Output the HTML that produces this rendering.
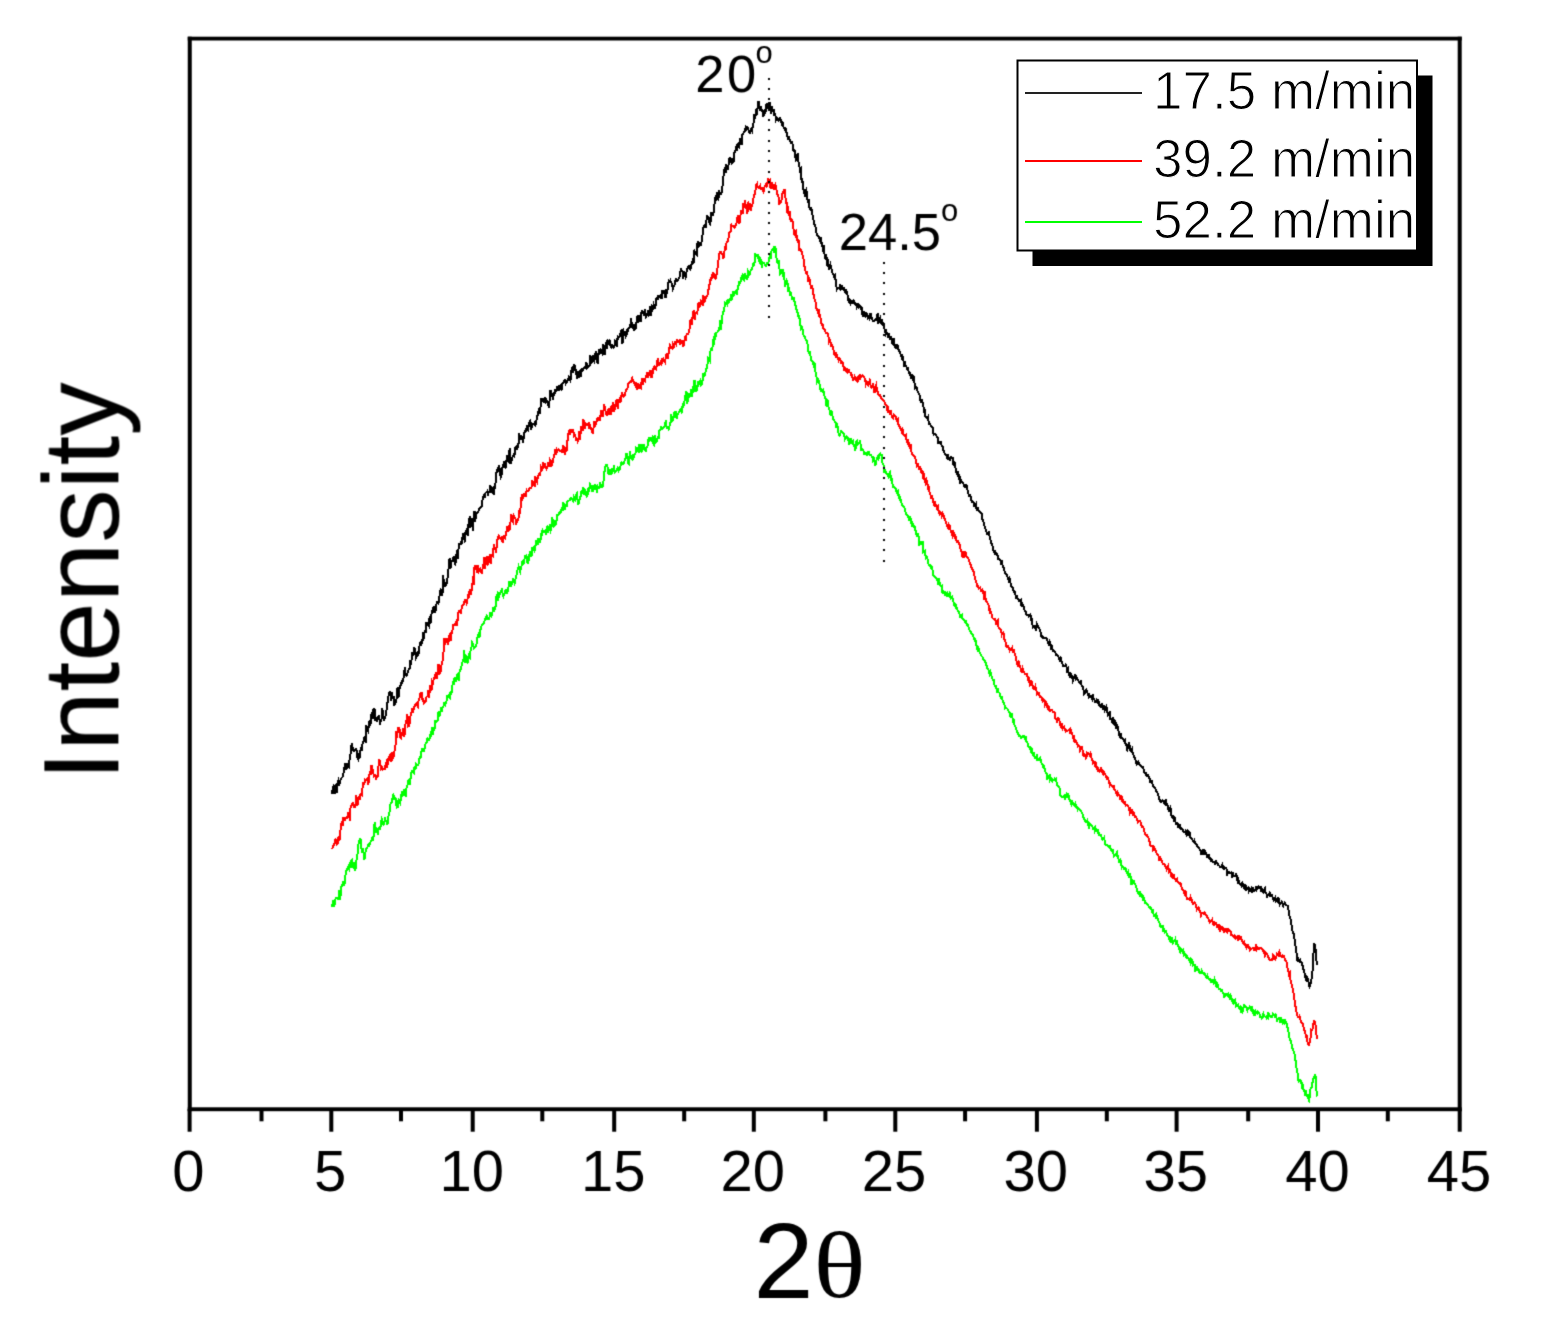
<!DOCTYPE html><html><head><meta charset="utf-8"><title>XRD</title><style>html,body{margin:0;padding:0;background:#fff;}svg{display:block;}text{font-family:"Liberation Sans",Arial,sans-serif;}</style></head><body>
<svg width="1544" height="1332" viewBox="0 0 1544 1332">
<rect x="0" y="0" width="1544" height="1332" fill="#fff"/>
<defs><filter id="soft" x="0" y="0" width="1544" height="1332" filterUnits="userSpaceOnUse" color-interpolation-filters="sRGB"><feConvolveMatrix order="3" kernelMatrix="0.0225 0.105 0.0225 0.105 0.49 0.105 0.0225 0.105 0.0225" edgeMode="none"/></filter></defs>
<g filter="url(#soft)">
<g fill="none" stroke-width="2" stroke-linejoin="miter" shape-rendering="crispEdges">
<polyline stroke="#00ff00" points="332.2,906.8 333.0,900.0 333.8,907.1 334.6,904.0 335.4,899.0 336.2,897.8 337.0,897.8 337.8,899.2 338.6,899.1 339.4,889.7 340.2,899.8 341.0,889.1 341.8,885.0 342.6,885.6 343.4,881.1 344.2,886.3 345.0,879.8 345.8,872.6 346.6,870.2 347.4,868.2 348.2,867.0 349.0,868.5 349.8,862.2 350.6,867.8 351.4,860.3 352.2,859.8 353.0,867.8 353.8,862.1 354.6,869.7 355.4,870.2 356.2,862.4 357.0,856.6 357.8,852.2 358.6,843.1 359.4,840.7 360.2,839.2 361.0,840.0 361.8,853.2 362.6,848.7 363.4,852.4 364.2,859.6 365.0,856.8 365.8,849.8 366.6,848.1 367.4,848.0 368.2,843.7 369.0,847.2 369.8,844.2 370.6,841.6 371.4,840.9 372.2,838.0 373.0,839.0 373.8,835.2 374.6,822.3 375.4,832.8 376.2,827.9 377.0,828.7 377.8,835.2 378.6,828.4 379.4,827.6 380.2,830.1 381.0,822.1 381.8,819.2 382.6,821.1 383.4,824.5 384.2,823.2 385.0,817.2 385.8,821.0 386.6,821.7 387.4,824.7 388.2,817.4 389.0,813.4 389.8,810.7 390.6,803.1 391.4,803.3 392.2,800.9 393.0,793.7 393.8,796.1 394.6,800.1 395.4,796.8 396.2,805.4 397.0,807.6 397.8,807.3 398.6,799.4 399.4,800.2 400.2,802.5 401.0,798.3 401.8,791.2 402.6,793.4 403.4,796.3 404.2,790.3 405.0,790.8 405.8,797.0 406.6,787.2 407.4,785.6 408.2,780.6 409.0,779.9 409.8,785.3 410.6,778.0 411.4,772.4 412.2,771.0 413.0,772.1 413.8,773.0 414.6,766.3 415.4,769.6 416.2,764.1 417.0,765.6 417.8,765.0 418.6,763.8 419.4,758.5 420.2,757.2 421.0,756.9 421.8,748.3 422.6,751.0 423.4,750.3 424.2,750.5 425.0,745.4 425.8,743.4 426.6,742.9 427.4,738.4 428.2,738.8 429.0,739.7 429.8,738.4 430.6,733.2 431.4,734.6 432.2,727.5 433.0,735.1 433.8,728.4 434.6,728.5 435.4,721.5 436.2,722.1 437.0,721.0 437.8,720.2 438.6,711.1 439.4,717.1 440.2,712.5 441.0,709.0 441.8,711.6 442.6,707.5 443.4,706.2 444.2,703.4 445.0,705.1 445.8,702.9 446.6,700.4 447.4,695.8 448.2,695.4 449.0,696.6 449.8,697.7 450.6,691.6 451.4,694.4 452.2,687.5 453.0,681.6 453.8,684.9 454.6,677.6 455.4,680.4 456.2,680.9 457.0,674.8 457.8,674.0 458.6,680.9 459.4,672.3 460.2,670.2 461.0,669.6 461.8,664.4 462.6,662.0 463.4,661.0 464.2,650.0 465.0,662.9 465.8,655.4 466.6,656.1 467.4,662.3 468.2,661.6 469.0,655.9 469.8,657.6 470.6,649.9 471.4,647.9 472.2,642.3 473.0,644.1 473.8,647.9 474.6,646.9 475.4,646.5 476.2,646.2 477.0,640.5 477.8,635.7 478.6,634.1 479.4,637.7 480.2,630.0 481.0,628.5 481.8,624.8 482.6,624.4 483.4,624.2 484.2,621.8 485.0,620.2 485.8,617.0 486.6,615.7 487.4,618.9 488.2,619.3 489.0,619.2 489.8,615.8 490.6,612.2 491.4,616.1 492.2,614.9 493.0,606.7 493.8,611.3 494.6,607.8 495.4,608.6 496.2,597.1 497.0,595.2 497.8,601.3 498.6,592.4 499.4,595.1 500.2,593.1 501.0,592.4 501.8,588.5 502.6,593.1 503.4,596.2 504.2,593.6 505.0,592.7 505.8,589.1 506.6,593.9 507.4,589.9 508.2,590.6 509.0,581.4 509.8,586.9 510.6,581.4 511.4,585.3 512.2,583.7 513.0,578.3 513.8,581.4 514.6,583.5 515.4,579.2 516.2,577.4 517.0,570.7 517.8,569.4 518.6,566.5 519.4,569.4 520.2,571.6 521.0,568.0 521.8,565.2 522.6,560.3 523.4,564.5 524.2,561.6 525.0,555.7 525.8,555.6 526.6,559.2 527.4,556.6 528.2,564.1 529.0,557.3 529.8,552.2 530.6,552.3 531.4,557.2 532.2,547.2 533.0,550.9 533.8,548.2 534.6,550.3 535.4,546.0 536.2,541.7 537.0,543.4 537.8,540.7 538.6,542.4 539.4,537.7 540.2,542.8 541.0,534.5 541.8,534.8 542.6,530.0 543.4,531.4 544.2,530.9 545.0,531.2 545.8,533.2 546.6,528.2 547.4,526.9 548.2,532.8 549.0,528.0 549.8,525.9 550.6,530.9 551.4,528.8 552.2,517.0 553.0,523.3 553.8,526.1 554.6,525.2 555.4,519.8 556.2,524.4 557.0,514.9 557.8,514.8 558.6,514.2 559.4,512.1 560.2,512.9 561.0,512.0 561.8,507.6 562.6,511.1 563.4,503.5 564.2,504.1 565.0,509.7 565.8,504.1 566.6,506.7 567.4,501.2 568.2,500.8 569.0,500.4 569.8,500.3 570.6,497.7 571.4,498.0 572.2,499.5 573.0,500.6 573.8,497.0 574.6,499.0 575.4,500.2 576.2,494.3 577.0,493.3 577.8,504.2 578.6,503.9 579.4,499.2 580.2,498.8 581.0,493.1 581.8,490.1 582.6,494.1 583.4,487.3 584.2,494.8 585.0,489.4 585.8,492.0 586.6,496.6 587.4,495.7 588.2,488.0 589.0,491.4 589.8,484.1 590.6,485.1 591.4,488.1 592.2,491.4 593.0,485.6 593.8,489.6 594.6,488.6 595.4,484.4 596.2,487.8 597.0,492.4 597.8,486.5 598.6,487.6 599.4,487.7 600.2,481.9 601.0,487.3 601.8,487.5 602.6,486.3 603.4,482.1 604.2,473.0 605.0,469.1 605.8,464.9 606.6,464.9 607.4,466.2 608.2,472.8 609.0,475.2 609.8,469.4 610.6,474.7 611.4,468.7 612.2,471.5 613.0,469.3 613.8,467.3 614.6,472.6 615.4,472.4 616.2,470.4 617.0,469.6 617.8,467.8 618.6,470.1 619.4,467.1 620.2,468.1 621.0,461.7 621.8,464.2 622.6,463.2 623.4,463.7 624.2,462.1 625.0,459.5 625.8,456.7 626.6,453.1 627.4,458.8 628.2,463.3 629.0,464.1 629.8,451.0 630.6,456.8 631.4,458.2 632.2,456.1 633.0,458.9 633.8,457.2 634.6,454.1 635.4,454.2 636.2,448.0 637.0,448.8 637.8,448.0 638.6,452.7 639.4,443.8 640.2,448.0 641.0,450.6 641.8,447.2 642.6,449.2 643.4,443.9 644.2,447.0 645.0,448.2 645.8,452.0 646.6,446.8 647.4,446.9 648.2,440.3 649.0,438.6 649.8,441.3 650.6,437.2 651.4,440.0 652.2,438.0 653.0,442.8 653.8,444.2 654.6,434.6 655.4,443.6 656.2,439.6 657.0,440.1 657.8,437.5 658.6,438.2 659.4,430.4 660.2,429.6 661.0,427.4 661.8,428.8 662.6,428.9 663.4,428.0 664.2,426.9 665.0,424.1 665.8,420.6 666.6,427.7 667.4,427.2 668.2,428.2 669.0,430.2 669.8,423.8 670.6,422.4 671.4,414.5 672.2,422.3 673.0,419.1 673.8,415.6 674.6,417.9 675.4,412.1 676.2,412.3 677.0,418.7 677.8,413.6 678.6,413.0 679.4,411.4 680.2,410.2 681.0,407.9 681.8,413.4 682.6,404.9 683.4,406.2 684.2,402.0 685.0,400.2 685.8,392.3 686.6,392.6 687.4,402.3 688.2,400.9 689.0,393.7 689.8,393.8 690.6,395.0 691.4,389.1 692.2,396.8 693.0,387.0 693.8,387.0 694.6,379.7 695.4,392.2 696.2,387.0 697.0,391.1 697.8,381.6 698.6,384.2 699.4,381.9 700.2,380.7 701.0,385.1 701.8,384.2 702.6,380.0 703.4,373.1 704.2,375.9 705.0,375.2 705.8,370.6 706.6,368.1 707.4,365.0 708.2,357.8 709.0,358.4 709.8,360.0 710.6,349.6 711.4,350.5 712.2,350.4 713.0,341.4 713.8,342.7 714.6,335.7 715.4,337.3 716.2,333.0 717.0,332.6 717.8,331.8 718.6,330.4 719.4,328.7 720.2,320.3 721.0,330.4 721.8,320.6 722.6,314.0 723.4,311.4 724.2,310.3 725.0,302.4 725.8,302.8 726.6,301.9 727.4,304.1 728.2,299.3 729.0,301.8 729.8,300.2 730.6,297.5 731.4,300.5 732.2,296.0 733.0,291.5 733.8,294.8 734.6,293.3 735.4,291.7 736.2,290.8 737.0,294.9 737.8,286.6 738.6,285.1 739.4,281.1 740.2,283.8 741.0,278.1 741.8,276.1 742.6,274.9 743.4,279.8 744.2,280.3 745.0,273.3 745.8,275.6 746.6,278.9 747.4,278.9 748.2,271.2 749.0,272.8 749.8,275.3 750.6,270.4 751.4,269.8 752.2,268.7 753.0,264.3 753.8,264.9 754.6,262.3 755.4,254.0 756.2,254.8 757.0,256.1 757.8,255.2 758.6,259.0 759.4,256.6 760.2,263.7 761.0,259.5 761.8,268.0 762.6,262.5 763.4,262.6 764.2,263.0 765.0,265.2 765.8,265.9 766.6,264.5 767.4,262.8 768.2,262.8 769.0,260.6 769.8,255.5 770.6,258.6 771.4,251.3 772.2,250.1 773.0,248.7 773.8,252.7 774.6,246.9 775.4,247.4 776.2,255.8 777.0,261.1 777.8,264.1 778.6,260.3 779.4,268.3 780.2,273.6 781.0,272.7 781.8,269.2 782.6,274.0 783.4,272.1 784.2,275.4 785.0,286.4 785.8,284.3 786.6,280.5 787.4,282.5 788.2,289.7 789.0,289.0 789.8,294.0 790.6,292.7 791.4,295.8 792.2,299.0 793.0,298.0 793.8,298.0 794.6,301.9 795.4,305.1 796.2,308.4 797.0,311.0 797.8,313.5 798.6,317.4 799.4,316.4 800.2,324.8 801.0,328.8 801.8,327.1 802.6,329.3 803.4,334.7 804.2,335.9 805.0,337.5 805.8,339.5 806.6,340.9 807.4,342.5 808.2,349.9 809.0,354.1 809.8,351.3 810.6,356.6 811.4,360.0 812.2,360.7 813.0,362.3 813.8,365.7 814.6,364.3 815.4,371.8 816.2,373.9 817.0,382.5 817.8,381.5 818.6,380.1 819.4,382.8 820.2,389.0 821.0,390.8 821.8,389.4 822.6,390.9 823.4,389.9 824.2,395.2 825.0,397.9 825.8,398.6 826.6,406.6 827.4,399.6 828.2,405.7 829.0,408.9 829.8,410.9 830.6,415.8 831.4,410.3 832.2,414.0 833.0,418.2 833.8,420.3 834.6,421.1 835.4,422.1 836.2,428.2 837.0,424.6 837.8,427.3 838.6,433.6 839.4,435.6 840.2,434.7 841.0,431.3 841.8,431.9 842.6,432.5 843.4,432.5 844.2,434.8 845.0,439.3 845.8,437.7 846.6,436.6 847.4,437.7 848.2,438.0 849.0,444.6 849.8,438.0 850.6,443.7 851.4,440.0 852.2,441.1 853.0,440.6 853.8,446.7 854.6,444.6 855.4,450.5 856.2,441.3 857.0,440.7 857.8,444.0 858.6,443.1 859.4,442.6 860.2,440.1 861.0,449.4 861.8,449.0 862.6,450.4 863.4,450.2 864.2,455.2 865.0,452.6 865.8,453.9 866.6,453.1 867.4,455.9 868.2,451.6 869.0,451.6 869.8,455.1 870.6,454.7 871.4,455.8 872.2,456.8 873.0,460.8 873.8,458.4 874.6,461.9 875.4,465.7 876.2,461.5 877.0,458.1 877.8,456.4 878.6,458.6 879.4,454.9 880.2,453.6 881.0,454.8 881.8,454.9 882.6,463.8 883.4,463.6 884.2,473.1 885.0,469.3 885.8,472.1 886.6,474.3 887.4,474.3 888.2,476.3 889.0,473.6 889.8,472.5 890.6,478.6 891.4,477.4 892.2,481.8 893.0,487.1 893.8,486.7 894.6,487.6 895.4,487.9 896.2,491.1 897.0,492.8 897.8,491.4 898.6,496.8 899.4,495.6 900.2,499.9 901.0,500.2 901.8,504.8 902.6,506.1 903.4,505.9 904.2,507.2 905.0,510.0 905.8,513.7 906.6,514.8 907.4,514.7 908.2,516.6 909.0,520.7 909.8,515.9 910.6,521.7 911.4,520.4 912.2,526.4 913.0,524.3 913.8,526.6 914.6,526.2 915.4,530.0 916.2,533.2 917.0,536.7 917.8,532.8 918.6,536.0 919.4,545.9 920.2,541.7 921.0,541.7 921.8,545.1 922.6,541.5 923.4,552.1 924.2,551.6 925.0,550.9 925.8,558.0 926.6,556.8 927.4,558.2 928.2,563.2 929.0,565.1 929.8,565.2 930.6,567.3 931.4,566.4 932.2,567.7 933.0,573.8 933.8,576.3 934.6,576.2 935.4,577.7 936.2,577.7 937.0,579.5 937.8,579.2 938.6,585.1 939.4,582.1 940.2,585.3 941.0,586.3 941.8,585.6 942.6,593.4 943.4,591.0 944.2,591.9 945.0,594.3 945.8,592.6 946.6,594.4 947.4,592.9 948.2,595.9 949.0,595.5 949.8,593.4 950.6,598.5 951.4,598.2 952.2,597.0 953.0,600.9 953.8,602.4 954.6,606.3 955.4,603.0 956.2,607.8 957.0,608.0 957.8,611.0 958.6,611.4 959.4,613.7 960.2,616.6 961.0,615.6 961.8,614.7 962.6,619.0 963.4,618.9 964.2,620.5 965.0,622.1 965.8,621.1 966.6,624.3 967.4,623.8 968.2,625.8 969.0,628.9 969.8,630.6 970.6,631.6 971.4,633.8 972.2,633.7 973.0,635.4 973.8,637.9 974.6,640.4 975.4,639.8 976.2,644.0 977.0,647.9 977.8,650.2 978.6,648.4 979.4,652.0 980.2,653.0 981.0,654.8 981.8,656.3 982.6,657.2 983.4,659.3 984.2,659.8 985.0,660.7 985.8,663.4 986.6,665.7 987.4,668.8 988.2,669.2 989.0,671.6 989.8,674.5 990.6,672.1 991.4,675.3 992.2,678.7 993.0,679.8 993.8,680.1 994.6,685.6 995.4,685.8 996.2,685.9 997.0,692.4 997.8,688.4 998.6,692.2 999.4,692.6 1000.2,695.4 1001.0,698.0 1001.8,697.5 1002.6,700.6 1003.4,702.7 1004.2,703.3 1005.0,708.2 1005.8,707.7 1006.6,708.1 1007.4,708.7 1008.2,710.5 1009.0,712.3 1009.8,712.8 1010.6,717.8 1011.4,713.2 1012.2,716.0 1013.0,721.3 1013.8,720.7 1014.6,725.9 1015.4,726.3 1016.2,729.7 1017.0,730.8 1017.8,733.6 1018.6,734.3 1019.4,736.2 1020.2,736.1 1021.0,737.7 1021.8,737.4 1022.6,736.2 1023.4,735.7 1024.2,736.3 1025.0,739.7 1025.8,736.1 1026.6,742.2 1027.4,742.4 1028.2,746.7 1029.0,747.4 1029.8,747.3 1030.6,750.1 1031.4,747.4 1032.2,753.0 1033.0,754.6 1033.8,751.9 1034.6,757.8 1035.4,757.3 1036.2,758.5 1037.0,756.1 1037.8,759.9 1038.6,760.2 1039.4,759.5 1040.2,758.1 1041.0,761.5 1041.8,764.2 1042.6,764.6 1043.4,767.6 1044.2,766.9 1045.0,770.2 1045.8,772.7 1046.6,773.9 1047.4,779.6 1048.2,776.6 1049.0,775.9 1049.8,779.4 1050.6,777.1 1051.4,780.5 1052.2,781.4 1053.0,779.4 1053.8,779.8 1054.6,778.8 1055.4,780.8 1056.2,779.6 1057.0,784.9 1057.8,785.4 1058.6,786.3 1059.4,786.6 1060.2,794.9 1061.0,795.9 1061.8,796.8 1062.6,796.6 1063.4,796.7 1064.2,795.7 1065.0,799.9 1065.8,797.1 1066.6,794.2 1067.4,795.5 1068.2,792.9 1069.0,799.0 1069.8,799.9 1070.6,802.5 1071.4,804.1 1072.2,800.4 1073.0,803.5 1073.8,805.2 1074.6,805.5 1075.4,803.9 1076.2,806.9 1077.0,807.2 1077.8,809.6 1078.6,808.1 1079.4,808.9 1080.2,809.9 1081.0,811.6 1081.8,812.3 1082.6,814.4 1083.4,817.2 1084.2,818.4 1085.0,821.1 1085.8,821.9 1086.6,822.2 1087.4,820.4 1088.2,824.6 1089.0,826.9 1089.8,823.9 1090.6,824.8 1091.4,825.7 1092.2,826.1 1093.0,828.1 1093.8,827.6 1094.6,830.4 1095.4,828.1 1096.2,830.5 1097.0,830.5 1097.8,830.4 1098.6,834.6 1099.4,833.6 1100.2,835.2 1101.0,835.2 1101.8,838.4 1102.6,839.6 1103.4,839.5 1104.2,838.0 1105.0,843.7 1105.8,844.7 1106.6,844.7 1107.4,845.8 1108.2,846.5 1109.0,847.5 1109.8,846.3 1110.6,848.8 1111.4,850.3 1112.2,849.6 1113.0,850.0 1113.8,855.8 1114.6,854.7 1115.4,854.2 1116.2,854.9 1117.0,852.5 1117.8,855.9 1118.6,859.2 1119.4,863.1 1120.2,858.7 1121.0,862.1 1121.8,867.4 1122.6,866.2 1123.4,866.7 1124.2,869.1 1125.0,867.9 1125.8,868.9 1126.6,871.7 1127.4,873.6 1128.2,871.9 1129.0,877.8 1129.8,873.6 1130.6,876.7 1131.4,884.4 1132.2,879.7 1133.0,882.9 1133.8,881.4 1134.6,883.9 1135.4,884.6 1136.2,886.6 1137.0,889.7 1137.8,892.5 1138.6,892.0 1139.4,894.1 1140.2,891.6 1141.0,896.0 1141.8,895.6 1142.6,898.4 1143.4,897.0 1144.2,898.9 1145.0,903.0 1145.8,903.2 1146.6,903.9 1147.4,904.2 1148.2,905.6 1149.0,907.1 1149.8,907.9 1150.6,907.0 1151.4,909.0 1152.2,912.0 1153.0,911.0 1153.8,915.9 1154.6,915.8 1155.4,916.9 1156.2,914.2 1157.0,916.9 1157.8,919.3 1158.6,921.5 1159.4,922.1 1160.2,926.0 1161.0,926.8 1161.8,927.2 1162.6,925.2 1163.4,931.9 1164.2,929.9 1165.0,932.2 1165.8,931.0 1166.6,933.3 1167.4,935.6 1168.2,935.9 1169.0,938.2 1169.8,937.5 1170.6,942.5 1171.4,937.0 1172.2,939.7 1173.0,942.7 1173.8,940.9 1174.6,940.9 1175.4,939.0 1176.2,944.4 1177.0,940.6 1177.8,946.0 1178.6,946.9 1179.4,949.4 1180.2,951.6 1181.0,949.1 1181.8,949.9 1182.6,951.5 1183.4,950.0 1184.2,955.2 1185.0,954.1 1185.8,956.0 1186.6,955.0 1187.4,958.1 1188.2,958.2 1189.0,960.0 1189.8,959.1 1190.6,963.3 1191.4,961.2 1192.2,958.8 1193.0,965.1 1193.8,964.5 1194.6,964.6 1195.4,971.4 1196.2,968.3 1197.0,967.3 1197.8,969.2 1198.6,971.3 1199.4,970.7 1200.2,973.4 1201.0,973.4 1201.8,970.5 1202.6,972.2 1203.4,974.0 1204.2,973.2 1205.0,974.0 1205.8,977.2 1206.6,977.6 1207.4,975.5 1208.2,977.8 1209.0,978.7 1209.8,979.8 1210.6,979.3 1211.4,983.2 1212.2,979.9 1213.0,980.2 1213.8,982.9 1214.6,979.4 1215.4,982.0 1216.2,985.3 1217.0,982.8 1217.8,984.4 1218.6,988.6 1219.4,988.6 1220.2,989.0 1221.0,990.4 1221.8,989.9 1222.6,992.6 1223.4,992.8 1224.2,997.9 1225.0,995.0 1225.8,993.9 1226.6,994.8 1227.4,995.4 1228.2,993.6 1229.0,995.2 1229.8,999.8 1230.6,995.8 1231.4,997.9 1232.2,1001.2 1233.0,1002.6 1233.8,999.0 1234.6,1003.9 1235.4,1001.6 1236.2,1005.8 1237.0,1004.8 1237.8,1004.5 1238.6,1007.2 1239.4,1008.1 1240.2,1007.1 1241.0,1013.2 1241.8,1009.2 1242.6,1011.2 1243.4,1007.9 1244.2,1005.1 1245.0,1005.8 1245.8,1007.2 1246.6,1008.1 1247.4,1010.2 1248.2,1007.9 1249.0,1007.7 1249.8,1006.6 1250.6,1009.0 1251.4,1010.1 1252.2,1006.6 1253.0,1013.1 1253.8,1013.4 1254.6,1015.8 1255.4,1011.1 1256.2,1013.1 1257.0,1013.4 1257.8,1011.7 1258.6,1013.1 1259.4,1013.6 1260.2,1016.7 1261.0,1016.7 1261.8,1018.2 1262.6,1015.3 1263.4,1013.6 1264.2,1016.5 1265.0,1016.4 1265.8,1016.9 1266.6,1018.0 1267.4,1015.1 1268.2,1017.5 1269.0,1014.5 1269.8,1016.4 1270.6,1017.1 1271.4,1015.7 1272.2,1016.2 1273.0,1013.6 1273.8,1014.8 1274.6,1016.1 1275.4,1014.3 1276.2,1015.6 1277.0,1021.7 1277.8,1018.8 1278.6,1017.8 1279.4,1018.2 1280.2,1022.9 1281.0,1016.8 1281.8,1021.1 1282.6,1022.9 1283.4,1021.1 1284.2,1023.0 1285.0,1020.5 1285.8,1022.3 1286.6,1023.8 1287.4,1027.1 1288.2,1030.9 1289.0,1034.2 1289.8,1039.5 1290.6,1040.7 1291.4,1043.5 1292.2,1047.3 1293.0,1050.4 1293.8,1051.5 1294.6,1054.0 1295.4,1059.4 1296.2,1066.9 1297.0,1070.1 1297.8,1074.2 1298.6,1081.4 1299.4,1080.4 1300.2,1079.9 1301.0,1081.0 1301.8,1086.0 1302.6,1084.3 1303.4,1089.4 1304.2,1090.2 1305.0,1093.5 1305.8,1092.0 1306.6,1096.6 1307.4,1093.9 1308.2,1098.3 1309.0,1100.6 1309.8,1096.0 1310.6,1088.0 1311.4,1088.2 1312.2,1083.9 1313.0,1080.3 1313.8,1077.5 1314.6,1076.6 1315.4,1074.5 1316.2,1087.1 1317.0,1096.5"/>
<polyline stroke="#ff0000" points="332.2,849.0 333.0,846.3 333.8,844.7 334.6,843.6 335.4,838.7 336.2,841.7 337.0,844.2 337.8,843.6 338.6,836.6 339.4,840.6 340.2,834.7 341.0,823.9 341.8,822.4 342.6,826.0 343.4,816.8 344.2,818.7 345.0,819.6 345.8,818.2 346.6,817.4 347.4,818.0 348.2,813.0 349.0,813.1 349.8,820.7 350.6,806.5 351.4,805.7 352.2,804.5 353.0,802.1 353.8,808.3 354.6,804.6 355.4,807.5 356.2,795.0 357.0,806.2 357.8,804.2 358.6,795.7 359.4,800.3 360.2,794.4 361.0,794.2 361.8,794.8 362.6,786.8 363.4,782.0 364.2,784.6 365.0,779.5 365.8,780.2 366.6,779.4 367.4,778.8 368.2,784.5 369.0,780.3 369.8,771.4 370.6,775.0 371.4,764.7 372.2,768.6 373.0,770.8 373.8,776.0 374.6,775.2 375.4,775.1 376.2,778.5 377.0,776.9 377.8,776.3 378.6,764.4 379.4,759.2 380.2,763.8 381.0,768.4 381.8,767.0 382.6,769.4 383.4,769.0 384.2,768.5 385.0,768.8 385.8,762.6 386.6,767.8 387.4,760.0 388.2,761.8 389.0,756.1 389.8,761.0 390.6,753.2 391.4,762.3 392.2,752.5 393.0,757.4 393.8,755.7 394.6,750.3 395.4,747.0 396.2,730.8 397.0,737.6 397.8,729.8 398.6,731.1 399.4,727.6 400.2,736.8 401.0,737.9 401.8,734.4 402.6,731.9 403.4,727.9 404.2,737.3 405.0,730.3 405.8,720.0 406.6,723.5 407.4,714.2 408.2,726.4 409.0,726.0 409.8,722.4 410.6,715.7 411.4,712.3 412.2,708.3 413.0,713.3 413.8,707.4 414.6,707.0 415.4,704.3 416.2,703.3 417.0,704.9 417.8,706.4 418.6,700.3 419.4,698.9 420.2,694.2 421.0,692.8 421.8,693.0 422.6,700.4 423.4,699.4 424.2,703.0 425.0,702.4 425.8,700.9 426.6,696.6 427.4,696.5 428.2,690.0 429.0,698.4 429.8,689.8 430.6,684.8 431.4,690.9 432.2,681.1 433.0,682.3 433.8,678.1 434.6,678.3 435.4,674.5 436.2,676.3 437.0,678.4 437.8,668.4 438.6,664.0 439.4,674.5 440.2,669.4 441.0,670.3 441.8,662.2 442.6,661.0 443.4,654.6 444.2,638.5 445.0,644.9 445.8,641.1 446.6,638.2 447.4,643.0 448.2,644.9 449.0,636.4 449.8,634.6 450.6,640.7 451.4,634.3 452.2,633.0 453.0,625.4 453.8,624.7 454.6,625.3 455.4,623.9 456.2,622.2 457.0,625.4 457.8,618.9 458.6,611.2 459.4,611.2 460.2,611.7 461.0,614.1 461.8,605.8 462.6,605.3 463.4,605.3 464.2,601.8 465.0,600.1 465.8,600.6 466.6,603.1 467.4,599.6 468.2,595.3 469.0,595.9 469.8,588.7 470.6,594.7 471.4,591.6 472.2,586.5 473.0,576.4 473.8,585.0 474.6,565.2 475.4,568.2 476.2,567.2 477.0,572.7 477.8,565.6 478.6,571.7 479.4,569.9 480.2,568.9 481.0,571.8 481.8,572.7 482.6,568.2 483.4,565.0 484.2,557.5 485.0,569.0 485.8,562.3 486.6,556.3 487.4,562.1 488.2,565.3 489.0,558.8 489.8,554.0 490.6,563.7 491.4,556.8 492.2,554.6 493.0,555.6 493.8,543.9 494.6,549.5 495.4,547.0 496.2,552.6 497.0,540.8 497.8,539.1 498.6,535.6 499.4,536.8 500.2,538.0 501.0,538.7 501.8,536.2 502.6,542.4 503.4,536.5 504.2,536.2 505.0,537.9 505.8,534.8 506.6,530.4 507.4,526.2 508.2,531.6 509.0,525.6 509.8,530.4 510.6,521.4 511.4,514.6 512.2,520.2 513.0,521.7 513.8,516.0 514.6,517.8 515.4,518.5 516.2,524.5 517.0,520.6 517.8,519.8 518.6,517.8 519.4,510.8 520.2,511.7 521.0,502.0 521.8,494.0 522.6,498.3 523.4,496.8 524.2,494.0 525.0,493.9 525.8,497.1 526.6,490.0 527.4,491.3 528.2,491.1 529.0,489.7 529.8,487.7 530.6,488.0 531.4,488.0 532.2,482.2 533.0,484.1 533.8,481.0 534.6,486.6 535.4,476.2 536.2,479.4 537.0,481.7 537.8,477.2 538.6,475.5 539.4,473.1 540.2,474.2 541.0,467.9 541.8,469.9 542.6,468.4 543.4,462.4 544.2,467.6 545.0,464.7 545.8,466.9 546.6,468.5 547.4,466.8 548.2,462.0 549.0,467.0 549.8,459.5 550.6,460.8 551.4,467.0 552.2,459.8 553.0,462.9 553.8,455.5 554.6,454.7 555.4,449.6 556.2,454.8 557.0,449.5 557.8,450.4 558.6,449.5 559.4,450.5 560.2,450.6 561.0,450.5 561.8,451.9 562.6,451.2 563.4,444.9 564.2,451.6 565.0,454.7 565.8,449.1 566.6,450.5 567.4,441.6 568.2,434.1 569.0,431.6 569.8,435.2 570.6,432.3 571.4,429.2 572.2,433.1 573.0,429.4 573.8,435.3 574.6,434.0 575.4,436.7 576.2,441.2 577.0,438.1 577.8,441.2 578.6,439.5 579.4,431.2 580.2,439.6 581.0,426.5 581.8,428.3 582.6,429.3 583.4,418.6 584.2,428.4 585.0,428.2 585.8,423.9 586.6,425.0 587.4,424.5 588.2,423.5 589.0,428.6 589.8,424.9 590.6,427.0 591.4,429.4 592.2,432.1 593.0,434.1 593.8,424.7 594.6,420.9 595.4,424.9 596.2,423.0 597.0,417.7 597.8,420.4 598.6,420.0 599.4,417.8 600.2,420.4 601.0,410.3 601.8,412.3 602.6,417.1 603.4,411.6 604.2,404.4 605.0,408.9 605.8,412.3 606.6,415.7 607.4,411.9 608.2,414.5 609.0,408.1 609.8,411.2 610.6,415.1 611.4,407.3 612.2,409.1 613.0,402.4 613.8,412.3 614.6,406.4 615.4,407.9 616.2,400.5 617.0,400.2 617.8,409.1 618.6,400.9 619.4,399.2 620.2,401.7 621.0,401.0 621.8,392.3 622.6,394.5 623.4,396.6 624.2,395.1 625.0,394.7 625.8,390.1 626.6,388.7 627.4,388.6 628.2,384.2 629.0,382.4 629.8,382.0 630.6,382.3 631.4,380.5 632.2,378.1 633.0,380.3 633.8,382.2 634.6,384.6 635.4,385.9 636.2,381.8 637.0,390.3 637.8,382.9 638.6,388.8 639.4,384.0 640.2,387.4 641.0,388.1 641.8,377.8 642.6,384.7 643.4,382.6 644.2,379.2 645.0,380.8 645.8,376.7 646.6,377.2 647.4,371.9 648.2,376.3 649.0,374.7 649.8,374.6 650.6,369.7 651.4,377.1 652.2,376.9 653.0,369.5 653.8,367.5 654.6,366.7 655.4,369.3 656.2,369.5 657.0,363.0 657.8,358.2 658.6,365.4 659.4,363.4 660.2,363.6 661.0,364.3 661.8,358.4 662.6,361.2 663.4,359.0 664.2,360.1 665.0,361.7 665.8,356.9 666.6,353.3 667.4,358.9 668.2,356.1 669.0,351.7 669.8,345.1 670.6,346.5 671.4,348.4 672.2,348.5 673.0,344.1 673.8,346.4 674.6,342.3 675.4,342.1 676.2,344.0 677.0,340.3 677.8,340.4 678.6,341.7 679.4,342.8 680.2,339.5 681.0,342.7 681.8,341.3 682.6,343.3 683.4,346.9 684.2,342.4 685.0,336.1 685.8,341.1 686.6,334.4 687.4,333.6 688.2,333.7 689.0,331.2 689.8,327.6 690.6,319.4 691.4,325.3 692.2,319.4 693.0,314.5 693.8,309.9 694.6,319.4 695.4,314.3 696.2,312.9 697.0,313.5 697.8,309.1 698.6,302.3 699.4,306.5 700.2,305.0 701.0,301.6 701.8,304.3 702.6,305.0 703.4,296.0 704.2,296.6 705.0,300.2 705.8,297.6 706.6,296.2 707.4,295.5 708.2,292.0 709.0,285.5 709.8,284.2 710.6,278.6 711.4,279.3 712.2,275.6 713.0,272.2 713.8,275.9 714.6,274.9 715.4,278.8 716.2,278.5 717.0,269.6 717.8,266.8 718.6,259.1 719.4,253.6 720.2,252.0 721.0,252.0 721.8,253.8 722.6,253.6 723.4,258.7 724.2,253.5 725.0,246.1 725.8,248.1 726.6,242.6 727.4,241.8 728.2,241.3 729.0,233.3 729.8,232.4 730.6,231.7 731.4,225.0 732.2,226.1 733.0,225.9 733.8,226.7 734.6,227.5 735.4,225.9 736.2,225.3 737.0,219.8 737.8,215.7 738.6,218.9 739.4,224.0 740.2,218.4 741.0,209.8 741.8,213.5 742.6,213.0 743.4,203.6 744.2,207.6 745.0,199.7 745.8,206.0 746.6,204.1 747.4,213.6 748.2,201.6 749.0,207.1 749.8,203.1 750.6,210.9 751.4,205.9 752.2,206.0 753.0,201.5 753.8,195.5 754.6,194.6 755.4,190.7 756.2,185.2 757.0,183.8 757.8,187.4 758.6,188.0 759.4,188.1 760.2,186.1 761.0,189.9 761.8,186.8 762.6,190.5 763.4,192.0 764.2,188.0 765.0,186.0 765.8,184.8 766.6,186.4 767.4,182.6 768.2,178.5 769.0,181.6 769.8,180.6 770.6,188.5 771.4,185.4 772.2,182.4 773.0,188.0 773.8,189.1 774.6,186.3 775.4,184.5 776.2,188.5 777.0,191.5 777.8,196.1 778.6,197.1 779.4,204.8 780.2,199.8 781.0,203.1 781.8,198.0 782.6,192.4 783.4,193.0 784.2,190.4 785.0,190.4 785.8,203.1 786.6,203.1 787.4,211.4 788.2,209.6 789.0,214.0 789.8,213.3 790.6,220.2 791.4,219.1 792.2,220.2 793.0,223.5 793.8,232.4 794.6,230.9 795.4,235.1 796.2,233.0 797.0,237.9 797.8,243.0 798.6,239.6 799.4,249.9 800.2,249.2 801.0,250.5 801.8,252.1 802.6,255.0 803.4,257.9 804.2,266.1 805.0,267.6 805.8,272.3 806.6,271.8 807.4,273.7 808.2,281.5 809.0,277.0 809.8,280.6 810.6,286.0 811.4,289.0 812.2,285.1 813.0,291.5 813.8,296.0 814.6,299.3 815.4,301.1 816.2,308.3 817.0,308.7 817.8,311.6 818.6,308.8 819.4,316.4 820.2,314.2 821.0,322.9 821.8,324.6 822.6,324.3 823.4,328.1 824.2,329.3 825.0,330.1 825.8,332.7 826.6,332.9 827.4,333.4 828.2,334.0 829.0,341.5 829.8,339.9 830.6,342.0 831.4,346.1 832.2,345.6 833.0,347.5 833.8,351.9 834.6,354.7 835.4,355.9 836.2,352.3 837.0,357.2 837.8,358.2 838.6,360.5 839.4,358.4 840.2,359.2 841.0,362.7 841.8,362.2 842.6,362.8 843.4,366.1 844.2,369.4 845.0,368.6 845.8,371.8 846.6,367.7 847.4,372.4 848.2,371.5 849.0,370.3 849.8,372.5 850.6,372.7 851.4,375.4 852.2,375.3 853.0,381.0 853.8,378.5 854.6,376.7 855.4,379.0 856.2,379.9 857.0,378.0 857.8,380.3 858.6,375.9 859.4,375.3 860.2,380.1 861.0,375.8 861.8,376.3 862.6,375.4 863.4,376.0 864.2,377.1 865.0,378.9 865.8,384.0 866.6,381.9 867.4,383.4 868.2,384.8 869.0,382.6 869.8,380.4 870.6,385.1 871.4,387.3 872.2,386.6 873.0,383.4 873.8,389.3 874.6,392.9 875.4,386.1 876.2,384.4 877.0,390.5 877.8,392.2 878.6,394.8 879.4,396.0 880.2,395.6 881.0,397.7 881.8,398.5 882.6,399.3 883.4,400.1 884.2,401.1 885.0,404.1 885.8,405.3 886.6,405.4 887.4,410.4 888.2,408.5 889.0,411.5 889.8,413.4 890.6,410.1 891.4,414.2 892.2,417.6 893.0,418.3 893.8,414.9 894.6,416.1 895.4,416.1 896.2,418.8 897.0,420.8 897.8,419.4 898.6,425.1 899.4,426.5 900.2,428.1 901.0,428.8 901.8,431.3 902.6,429.4 903.4,434.5 904.2,435.5 905.0,436.0 905.8,435.1 906.6,441.1 907.4,442.8 908.2,439.1 909.0,445.7 909.8,447.3 910.6,444.0 911.4,451.7 912.2,453.6 913.0,455.4 913.8,456.1 914.6,456.4 915.4,458.7 916.2,462.6 917.0,465.6 917.8,464.1 918.6,466.0 919.4,469.5 920.2,465.8 921.0,472.3 921.8,472.7 922.6,470.7 923.4,477.7 924.2,476.1 925.0,480.8 925.8,483.5 926.6,480.7 927.4,483.3 928.2,488.1 929.0,487.4 929.8,494.1 930.6,495.1 931.4,498.5 932.2,495.5 933.0,501.4 933.8,503.8 934.6,500.9 935.4,506.8 936.2,503.8 937.0,507.7 937.8,506.2 938.6,511.0 939.4,513.8 940.2,511.9 941.0,512.8 941.8,515.9 942.6,513.5 943.4,515.1 944.2,517.9 945.0,518.9 945.8,522.8 946.6,524.0 947.4,526.9 948.2,525.1 949.0,528.3 949.8,526.2 950.6,530.3 951.4,532.8 952.2,535.0 953.0,530.1 953.8,533.6 954.6,536.8 955.4,535.8 956.2,540.0 957.0,541.5 957.8,541.3 958.6,542.9 959.4,543.9 960.2,547.9 961.0,551.5 961.8,551.9 962.6,557.4 963.4,550.8 964.2,553.0 965.0,555.7 965.8,553.2 966.6,556.3 967.4,557.7 968.2,558.4 969.0,559.6 969.8,563.6 970.6,564.7 971.4,567.3 972.2,569.4 973.0,570.1 973.8,572.2 974.6,576.1 975.4,579.6 976.2,581.5 977.0,585.9 977.8,586.2 978.6,588.3 979.4,587.8 980.2,587.3 981.0,591.0 981.8,591.5 982.6,590.2 983.4,592.7 984.2,600.1 985.0,591.4 985.8,601.0 986.6,601.1 987.4,602.9 988.2,604.5 989.0,606.4 989.8,613.6 990.6,611.0 991.4,613.4 992.2,617.6 993.0,618.6 993.8,618.9 994.6,620.0 995.4,619.5 996.2,624.8 997.0,622.1 997.8,620.5 998.6,627.6 999.4,628.3 1000.2,629.1 1001.0,629.6 1001.8,634.5 1002.6,632.5 1003.4,632.4 1004.2,638.5 1005.0,641.3 1005.8,642.8 1006.6,647.1 1007.4,646.6 1008.2,646.3 1009.0,647.8 1009.8,650.6 1010.6,649.5 1011.4,650.0 1012.2,647.9 1013.0,651.1 1013.8,650.1 1014.6,653.4 1015.4,655.4 1016.2,658.9 1017.0,663.2 1017.8,662.2 1018.6,667.3 1019.4,664.3 1020.2,667.4 1021.0,669.8 1021.8,672.6 1022.6,668.4 1023.4,670.8 1024.2,672.5 1025.0,673.6 1025.8,673.6 1026.6,673.9 1027.4,676.1 1028.2,679.7 1029.0,679.1 1029.8,685.6 1030.6,685.3 1031.4,680.6 1032.2,683.9 1033.0,688.0 1033.8,689.1 1034.6,689.4 1035.4,686.4 1036.2,689.5 1037.0,693.6 1037.8,692.6 1038.6,692.7 1039.4,695.4 1040.2,697.2 1041.0,696.8 1041.8,698.1 1042.6,700.8 1043.4,699.4 1044.2,700.3 1045.0,704.7 1045.8,702.4 1046.6,706.3 1047.4,705.0 1048.2,708.5 1049.0,705.9 1049.8,710.8 1050.6,710.2 1051.4,710.1 1052.2,710.0 1053.0,712.3 1053.8,712.2 1054.6,713.0 1055.4,718.2 1056.2,718.8 1057.0,721.2 1057.8,718.0 1058.6,718.2 1059.4,720.1 1060.2,725.2 1061.0,726.8 1061.8,723.1 1062.6,728.8 1063.4,727.1 1064.2,726.6 1065.0,729.3 1065.8,731.3 1066.6,730.6 1067.4,731.0 1068.2,730.3 1069.0,729.6 1069.8,731.7 1070.6,729.8 1071.4,733.8 1072.2,733.2 1073.0,738.7 1073.8,735.6 1074.6,742.6 1075.4,740.1 1076.2,741.0 1077.0,743.9 1077.8,746.0 1078.6,745.3 1079.4,745.6 1080.2,750.7 1081.0,749.3 1081.8,747.6 1082.6,750.6 1083.4,755.4 1084.2,754.4 1085.0,755.6 1085.8,757.6 1086.6,753.1 1087.4,754.8 1088.2,753.1 1089.0,754.2 1089.8,755.3 1090.6,753.6 1091.4,757.8 1092.2,759.5 1093.0,762.7 1093.8,761.5 1094.6,761.9 1095.4,766.0 1096.2,764.7 1097.0,768.2 1097.8,770.2 1098.6,769.0 1099.4,771.6 1100.2,771.4 1101.0,768.7 1101.8,771.4 1102.6,770.6 1103.4,774.4 1104.2,772.8 1105.0,774.5 1105.8,775.4 1106.6,778.5 1107.4,777.5 1108.2,779.0 1109.0,782.1 1109.8,785.4 1110.6,784.0 1111.4,786.0 1112.2,786.4 1113.0,786.7 1113.8,786.3 1114.6,789.9 1115.4,790.7 1116.2,791.8 1117.0,796.3 1117.8,793.2 1118.6,795.2 1119.4,795.1 1120.2,798.7 1121.0,797.4 1121.8,802.1 1122.6,799.5 1123.4,802.2 1124.2,803.6 1125.0,802.5 1125.8,805.4 1126.6,805.1 1127.4,804.9 1128.2,806.1 1129.0,809.0 1129.8,812.6 1130.6,809.9 1131.4,812.8 1132.2,811.6 1133.0,814.4 1133.8,812.9 1134.6,815.0 1135.4,817.5 1136.2,817.3 1137.0,819.2 1137.8,822.4 1138.6,821.4 1139.4,821.2 1140.2,821.2 1141.0,823.2 1141.8,826.9 1142.6,826.2 1143.4,827.9 1144.2,831.1 1145.0,833.1 1145.8,835.2 1146.6,834.9 1147.4,836.1 1148.2,836.7 1149.0,840.2 1149.8,842.5 1150.6,845.8 1151.4,846.4 1152.2,846.0 1153.0,849.6 1153.8,847.2 1154.6,848.9 1155.4,850.1 1156.2,851.7 1157.0,854.6 1157.8,854.9 1158.6,856.4 1159.4,861.1 1160.2,857.5 1161.0,859.1 1161.8,861.2 1162.6,863.4 1163.4,864.5 1164.2,864.4 1165.0,865.4 1165.8,866.7 1166.6,869.4 1167.4,867.6 1168.2,866.1 1169.0,871.3 1169.8,869.9 1170.6,872.7 1171.4,876.1 1172.2,874.9 1173.0,878.7 1173.8,874.0 1174.6,878.1 1175.4,879.2 1176.2,880.8 1177.0,879.1 1177.8,881.6 1178.6,882.6 1179.4,883.8 1180.2,882.7 1181.0,883.4 1181.8,888.4 1182.6,889.4 1183.4,890.2 1184.2,892.6 1185.0,894.7 1185.8,892.5 1186.6,897.2 1187.4,899.2 1188.2,899.1 1189.0,899.0 1189.8,899.9 1190.6,896.9 1191.4,899.1 1192.2,902.3 1193.0,903.9 1193.8,903.0 1194.6,902.3 1195.4,903.7 1196.2,906.4 1197.0,909.5 1197.8,908.6 1198.6,907.6 1199.4,910.5 1200.2,911.2 1201.0,915.4 1201.8,913.3 1202.6,913.2 1203.4,913.7 1204.2,912.4 1205.0,913.4 1205.8,915.1 1206.6,915.3 1207.4,917.7 1208.2,918.3 1209.0,920.5 1209.8,922.2 1210.6,920.8 1211.4,921.2 1212.2,919.6 1213.0,924.3 1213.8,925.1 1214.6,922.8 1215.4,923.6 1216.2,923.2 1217.0,926.3 1217.8,926.0 1218.6,927.7 1219.4,924.6 1220.2,931.8 1221.0,926.7 1221.8,927.0 1222.6,929.5 1223.4,928.7 1224.2,932.7 1225.0,929.0 1225.8,928.8 1226.6,931.8 1227.4,932.5 1228.2,929.3 1229.0,930.1 1229.8,930.4 1230.6,931.4 1231.4,935.3 1232.2,935.3 1233.0,935.9 1233.8,937.1 1234.6,935.9 1235.4,938.2 1236.2,937.3 1237.0,936.6 1237.8,940.9 1238.6,935.6 1239.4,939.0 1240.2,938.6 1241.0,937.5 1241.8,940.4 1242.6,942.0 1243.4,943.4 1244.2,942.1 1245.0,945.5 1245.8,945.7 1246.6,947.5 1247.4,943.9 1248.2,947.0 1249.0,947.3 1249.8,949.8 1250.6,948.1 1251.4,948.9 1252.2,948.3 1253.0,948.1 1253.8,948.2 1254.6,950.9 1255.4,947.2 1256.2,944.7 1257.0,949.0 1257.8,947.6 1258.6,949.2 1259.4,949.1 1260.2,947.7 1261.0,948.3 1261.8,948.7 1262.6,950.4 1263.4,950.0 1264.2,952.5 1265.0,955.5 1265.8,953.1 1266.6,954.0 1267.4,954.7 1268.2,957.4 1269.0,958.1 1269.8,960.1 1270.6,959.8 1271.4,959.5 1272.2,959.5 1273.0,955.8 1273.8,958.1 1274.6,956.7 1275.4,959.2 1276.2,957.6 1277.0,953.6 1277.8,954.1 1278.6,956.6 1279.4,951.9 1280.2,954.0 1281.0,956.2 1281.8,956.6 1282.6,955.7 1283.4,957.2 1284.2,956.7 1285.0,959.4 1285.8,961.2 1286.6,962.3 1287.4,967.4 1288.2,969.7 1289.0,974.1 1289.8,972.9 1290.6,980.8 1291.4,983.2 1292.2,986.5 1293.0,991.1 1293.8,993.9 1294.6,1000.7 1295.4,1005.9 1296.2,1009.9 1297.0,1014.7 1297.8,1016.9 1298.6,1017.3 1299.4,1016.1 1300.2,1018.5 1301.0,1021.8 1301.8,1022.9 1302.6,1023.1 1303.4,1026.3 1304.2,1030.1 1305.0,1030.4 1305.8,1036.4 1306.6,1035.7 1307.4,1041.4 1308.2,1044.4 1309.0,1044.9 1309.8,1041.3 1310.6,1038.0 1311.4,1029.7 1312.2,1030.1 1313.0,1026.9 1313.8,1021.4 1314.6,1021.0 1315.4,1023.8 1316.2,1032.0 1317.0,1039.1"/>
<polyline stroke="#000" points="332.0,794.0 332.8,787.5 333.6,785.9 334.4,794.0 335.2,791.9 336.0,784.6 336.8,793.3 337.6,782.2 338.4,780.1 339.2,785.4 340.0,782.3 340.8,779.2 341.6,777.8 342.4,777.1 343.2,774.0 344.0,772.1 344.8,763.8 345.6,764.0 346.4,769.5 347.2,763.0 348.0,766.0 348.8,767.0 349.6,759.1 350.4,755.3 351.2,746.3 352.0,742.9 352.8,749.5 353.6,750.9 354.4,750.6 355.2,749.8 356.0,749.3 356.8,750.4 357.6,758.5 358.4,759.9 359.2,754.9 360.0,755.9 360.8,747.6 361.6,751.1 362.4,744.5 363.2,741.7 364.0,739.3 364.8,736.1 365.6,743.1 366.4,725.3 367.2,729.4 368.0,730.8 368.8,726.4 369.6,720.1 370.4,726.0 371.2,714.9 372.0,713.1 372.8,719.2 373.6,710.8 374.4,707.8 375.2,720.4 376.0,720.4 376.8,720.7 377.6,716.5 378.4,719.4 379.2,715.2 380.0,724.4 380.8,720.1 381.6,719.0 382.4,708.3 383.2,717.8 384.0,719.8 384.8,718.1 385.6,715.9 386.4,711.5 387.2,703.6 388.0,700.6 388.8,693.1 389.6,692.3 390.4,692.1 391.2,701.1 392.0,692.1 392.8,697.8 393.6,697.2 394.4,704.9 395.2,704.3 396.0,701.5 396.8,697.5 397.6,687.3 398.4,698.2 399.2,690.5 400.0,686.4 400.8,684.9 401.6,681.6 402.4,682.4 403.2,680.0 404.0,675.9 404.8,666.7 405.6,674.8 406.4,675.4 407.2,674.2 408.0,670.5 408.8,669.7 409.6,668.6 410.4,660.0 411.2,665.3 412.0,652.0 412.8,653.9 413.6,654.4 414.4,647.5 415.2,651.5 416.0,658.2 416.8,656.6 417.6,651.0 418.4,655.4 419.2,648.1 420.0,643.5 420.8,644.3 421.6,641.1 422.4,642.4 423.2,631.8 424.0,638.4 424.8,630.6 425.6,633.0 426.4,622.1 427.2,624.6 428.0,624.7 428.8,625.9 429.6,616.6 430.4,624.3 431.2,616.9 432.0,609.9 432.8,612.9 433.6,606.4 434.4,609.5 435.2,613.2 436.0,607.0 436.8,601.8 437.6,601.6 438.4,603.0 439.2,599.0 440.0,592.1 440.8,589.8 441.6,592.0 442.4,595.5 443.2,574.8 444.0,586.4 444.8,582.4 445.6,585.3 446.4,584.7 447.2,580.7 448.0,573.7 448.8,565.9 449.6,558.4 450.4,569.0 451.2,563.0 452.0,560.9 452.8,561.1 453.6,556.5 454.4,561.6 455.2,563.8 456.0,561.7 456.8,550.1 457.6,559.1 458.4,549.7 459.2,543.8 460.0,543.9 460.8,542.5 461.6,543.7 462.4,537.7 463.2,533.7 464.0,536.4 464.8,542.4 465.6,530.5 466.4,532.3 467.2,528.6 468.0,535.8 468.8,517.8 469.6,527.6 470.4,517.8 471.2,519.3 472.0,520.1 472.8,531.2 473.6,516.2 474.4,511.5 475.2,522.3 476.0,513.1 476.8,513.8 477.6,513.0 478.4,511.7 479.2,508.8 480.0,508.3 480.8,506.6 481.6,506.5 482.4,500.1 483.2,496.9 484.0,493.8 484.8,497.6 485.6,492.8 486.4,492.4 487.2,491.4 488.0,495.8 488.8,490.8 489.6,493.2 490.4,486.5 491.2,487.2 492.0,490.5 492.8,487.6 493.6,494.5 494.4,487.2 495.2,489.0 496.0,473.3 496.8,471.9 497.6,469.2 498.4,470.3 499.2,465.5 500.0,473.0 500.8,476.8 501.6,474.5 502.4,467.6 503.2,465.8 504.0,461.6 504.8,466.3 505.6,468.3 506.4,460.4 507.2,455.3 508.0,461.2 508.8,462.0 509.6,448.4 510.4,457.5 511.2,463.7 512.0,457.9 512.8,456.1 513.6,454.8 514.4,456.1 515.2,447.7 516.0,446.9 516.8,450.1 517.6,444.8 518.4,446.0 519.2,433.4 520.0,438.2 520.8,439.0 521.6,436.5 522.4,437.3 523.2,442.9 524.0,432.7 524.8,431.9 525.6,429.7 526.4,430.6 527.2,427.0 528.0,429.1 528.8,425.0 529.6,421.3 530.4,420.5 531.2,430.0 532.0,424.9 532.8,423.8 533.6,424.1 534.4,423.1 535.2,425.1 536.0,423.3 536.8,418.1 537.6,415.3 538.4,411.4 539.2,407.8 540.0,414.1 540.8,403.3 541.6,397.9 542.4,400.8 543.2,399.8 544.0,402.8 544.8,397.5 545.6,401.8 546.4,400.3 547.2,402.4 548.0,404.6 548.8,406.1 549.6,400.0 550.4,390.4 551.2,392.3 552.0,393.8 552.8,399.4 553.6,393.5 554.4,394.6 555.2,388.9 556.0,391.0 556.8,390.6 557.6,385.7 558.4,389.4 559.2,389.8 560.0,384.7 560.8,388.1 561.6,389.5 562.4,383.2 563.2,382.5 564.0,381.2 564.8,380.2 565.6,383.2 566.4,381.3 567.2,381.7 568.0,380.0 568.8,377.3 569.6,379.5 570.4,380.9 571.2,371.3 572.0,368.8 572.8,372.7 573.6,368.2 574.4,363.9 575.2,370.8 576.0,368.7 576.8,379.0 577.6,371.7 578.4,373.8 579.2,378.1 580.0,369.8 580.8,376.8 581.6,368.6 582.4,371.7 583.2,368.5 584.0,368.0 584.8,367.8 585.6,366.0 586.4,361.8 587.2,367.5 588.0,366.0 588.8,366.8 589.6,365.9 590.4,355.0 591.2,363.1 592.0,362.2 592.8,354.8 593.6,359.9 594.4,361.4 595.2,354.1 596.0,350.8 596.8,353.8 597.6,364.2 598.4,354.5 599.2,349.3 600.0,352.7 600.8,350.1 601.6,351.9 602.4,353.4 603.2,343.7 604.0,353.9 604.8,354.1 605.6,344.5 606.4,342.8 607.2,348.4 608.0,340.5 608.8,340.8 609.6,340.5 610.4,345.1 611.2,347.3 612.0,345.2 612.8,347.1 613.6,347.7 614.4,346.2 615.2,341.2 616.0,342.5 616.8,347.0 617.6,337.3 618.4,338.4 619.2,336.4 620.0,335.7 620.8,331.8 621.6,330.5 622.4,344.0 623.2,338.2 624.0,332.2 624.8,334.2 625.6,336.5 626.4,332.0 627.2,334.3 628.0,328.8 628.8,328.4 629.6,327.9 630.4,325.3 631.2,318.3 632.0,327.0 632.8,328.1 633.6,329.1 634.4,324.2 635.2,329.1 636.0,328.3 636.8,319.2 637.6,315.5 638.4,322.5 639.2,315.2 640.0,319.8 640.8,321.8 641.6,311.3 642.4,311.0 643.2,313.4 644.0,315.7 644.8,309.2 645.6,317.3 646.4,316.0 647.2,314.6 648.0,310.3 648.8,314.9 649.6,313.8 650.4,305.7 651.2,316.1 652.0,306.8 652.8,308.2 653.6,304.4 654.4,306.8 655.2,308.7 656.0,301.0 656.8,297.1 657.6,300.0 658.4,295.6 659.2,295.9 660.0,296.7 660.8,295.7 661.6,299.2 662.4,290.1 663.2,293.9 664.0,290.0 664.8,295.4 665.6,298.2 666.4,289.1 667.2,293.4 668.0,285.3 668.8,281.1 669.6,281.9 670.4,280.5 671.2,282.3 672.0,284.4 672.8,288.9 673.6,287.0 674.4,285.3 675.2,281.3 676.0,279.4 676.8,280.9 677.6,280.1 678.4,279.2 679.2,278.3 680.0,275.7 680.8,268.7 681.6,270.7 682.4,270.9 683.2,279.1 684.0,271.5 684.8,275.1 685.6,277.3 686.4,272.7 687.2,269.2 688.0,268.4 688.8,264.8 689.6,268.5 690.4,269.6 691.2,265.3 692.0,263.4 692.8,260.4 693.6,262.1 694.4,251.3 695.2,252.8 696.0,253.6 696.8,254.7 697.6,241.1 698.4,246.8 699.2,246.5 700.0,241.8 700.8,246.2 701.6,241.7 702.4,236.1 703.2,228.4 704.0,226.0 704.8,225.0 705.6,228.2 706.4,220.8 707.2,216.3 708.0,216.7 708.8,217.6 709.6,223.3 710.4,224.1 711.2,212.3 712.0,215.4 712.8,215.0 713.6,212.2 714.4,205.1 715.2,198.7 716.0,199.2 716.8,192.5 717.6,198.8 718.4,199.7 719.2,189.7 720.0,194.5 720.8,194.2 721.6,192.7 722.4,187.3 723.2,179.8 724.0,169.6 724.8,168.5 725.6,172.6 726.4,165.4 727.2,165.8 728.0,169.5 728.8,163.2 729.6,157.0 730.4,159.7 731.2,162.1 732.0,158.7 732.8,162.2 733.6,161.7 734.4,152.9 735.2,151.1 736.0,150.2 736.8,144.5 737.6,147.4 738.4,144.1 739.2,145.8 740.0,140.0 740.8,137.8 741.6,145.3 742.4,134.9 743.2,133.9 744.0,131.7 744.8,131.3 745.6,127.5 746.4,128.9 747.2,127.1 748.0,128.3 748.8,131.2 749.6,132.8 750.4,132.5 751.2,129.1 752.0,130.8 752.8,126.0 753.6,122.6 754.4,114.2 755.2,118.5 756.0,112.7 756.8,114.7 757.6,107.8 758.4,102.2 759.2,102.4 760.0,111.2 760.8,106.0 761.6,111.8 762.4,109.6 763.2,117.1 764.0,109.7 764.8,112.9 765.6,111.2 766.4,104.7 767.2,104.2 768.0,108.7 768.8,104.2 769.6,102.2 770.4,109.2 771.2,113.9 772.0,106.6 772.8,112.0 773.6,109.2 774.4,116.1 775.2,113.6 776.0,120.3 776.8,119.3 777.6,118.2 778.4,120.6 779.2,119.2 780.0,118.3 780.8,119.5 781.6,123.3 782.4,121.1 783.2,126.3 784.0,127.7 784.8,129.6 785.6,128.7 786.4,132.3 787.2,134.1 788.0,140.3 788.8,136.2 789.6,139.3 790.4,141.4 791.2,143.0 792.0,142.6 792.8,144.7 793.6,151.7 794.4,148.9 795.2,155.5 796.0,160.6 796.8,160.2 797.6,152.8 798.4,161.7 799.2,165.4 800.0,170.5 800.8,169.2 801.6,181.0 802.4,180.0 803.2,188.8 804.0,190.2 804.8,196.4 805.6,190.2 806.4,189.1 807.2,198.6 808.0,201.2 808.8,200.8 809.6,208.7 810.4,209.7 811.2,206.9 812.0,212.6 812.8,215.8 813.6,220.3 814.4,224.6 815.2,225.3 816.0,229.7 816.8,234.7 817.6,235.0 818.4,236.2 819.2,238.1 820.0,240.6 820.8,237.6 821.6,245.2 822.4,244.2 823.2,249.9 824.0,248.3 824.8,257.5 825.6,258.3 826.4,256.6 827.2,263.1 828.0,261.6 828.8,269.5 829.6,266.9 830.4,264.5 831.2,268.6 832.0,269.5 832.8,274.5 833.6,274.6 834.4,277.8 835.2,276.0 836.0,283.5 836.8,289.3 837.6,288.0 838.4,288.1 839.2,288.6 840.0,285.7 840.8,288.7 841.6,285.5 842.4,288.7 843.2,287.9 844.0,288.1 844.8,293.1 845.6,288.8 846.4,293.5 847.2,290.9 848.0,300.0 848.8,301.4 849.6,299.8 850.4,303.7 851.2,301.5 852.0,302.4 852.8,300.8 853.6,300.3 854.4,303.7 855.2,302.8 856.0,303.8 856.8,307.6 857.6,306.2 858.4,303.3 859.2,307.4 860.0,306.7 860.8,308.6 861.6,307.5 862.4,314.2 863.2,317.1 864.0,310.8 864.8,316.3 865.6,316.8 866.4,312.5 867.2,315.1 868.0,318.1 868.8,316.5 869.6,318.4 870.4,312.9 871.2,315.3 872.0,319.2 872.8,320.6 873.6,321.0 874.4,320.3 875.2,319.8 876.0,319.0 876.8,321.2 877.6,313.2 878.4,323.6 879.2,319.5 880.0,318.2 880.8,323.6 881.6,319.6 882.4,324.5 883.2,323.6 884.0,327.3 884.8,330.1 885.6,333.6 886.4,331.5 887.2,333.8 888.0,336.2 888.8,333.6 889.6,338.9 890.4,338.5 891.2,335.9 892.0,342.6 892.8,343.7 893.6,338.4 894.4,344.1 895.2,347.1 896.0,347.7 896.8,344.9 897.6,345.3 898.4,349.8 899.2,350.5 900.0,353.3 900.8,354.6 901.6,357.4 902.4,356.0 903.2,357.9 904.0,366.5 904.8,361.5 905.6,365.6 906.4,366.8 907.2,368.9 908.0,368.3 908.8,372.8 909.6,372.6 910.4,375.5 911.2,379.2 912.0,376.2 912.8,378.8 913.6,376.9 914.4,382.1 915.2,387.8 916.0,386.7 916.8,387.6 917.6,391.6 918.4,392.5 919.2,394.3 920.0,396.0 920.8,403.1 921.6,398.9 922.4,402.3 923.2,404.7 924.0,411.3 924.8,410.9 925.6,417.2 926.4,417.6 927.2,418.6 928.0,417.0 928.8,423.7 929.6,423.5 930.4,425.0 931.2,425.9 932.0,427.4 932.8,427.8 933.6,434.5 934.4,434.4 935.2,434.2 936.0,434.6 936.8,437.2 937.6,438.0 938.4,442.8 939.2,442.7 940.0,441.6 940.8,442.2 941.6,445.5 942.4,445.9 943.2,449.6 944.0,451.9 944.8,454.1 945.6,455.2 946.4,455.4 947.2,458.0 948.0,455.7 948.8,457.9 949.6,460.1 950.4,459.5 951.2,456.9 952.0,457.6 952.8,458.0 953.6,466.2 954.4,461.4 955.2,466.0 956.0,471.7 956.8,472.2 957.6,474.8 958.4,473.1 959.2,477.4 960.0,483.8 960.8,479.8 961.6,482.1 962.4,481.8 963.2,483.4 964.0,485.1 964.8,488.1 965.6,484.7 966.4,484.7 967.2,489.4 968.0,491.5 968.8,495.6 969.6,496.1 970.4,495.5 971.2,499.5 972.0,502.1 972.8,501.9 973.6,502.2 974.4,506.0 975.2,505.7 976.0,504.0 976.8,511.3 977.6,507.3 978.4,510.1 979.2,511.1 980.0,511.9 980.8,513.2 981.6,513.3 982.4,519.5 983.2,520.8 984.0,523.2 984.8,527.5 985.6,529.3 986.4,531.5 987.2,534.2 988.0,533.2 988.8,531.0 989.6,536.6 990.4,539.4 991.2,542.7 992.0,544.6 992.8,546.8 993.6,551.3 994.4,552.8 995.2,549.9 996.0,554.3 996.8,554.2 997.6,555.4 998.4,559.0 999.2,559.1 1000.0,559.5 1000.8,562.2 1001.6,559.9 1002.4,564.8 1003.2,567.3 1004.0,567.8 1004.8,572.5 1005.6,574.2 1006.4,573.9 1007.2,576.1 1008.0,578.9 1008.8,580.7 1009.6,578.4 1010.4,582.7 1011.2,586.4 1012.0,586.9 1012.8,588.2 1013.6,590.8 1014.4,592.8 1015.2,592.4 1016.0,599.2 1016.8,595.3 1017.6,598.3 1018.4,599.0 1019.2,601.1 1020.0,600.3 1020.8,599.7 1021.6,606.5 1022.4,604.4 1023.2,606.0 1024.0,607.4 1024.8,611.1 1025.6,611.8 1026.4,614.2 1027.2,615.0 1028.0,615.0 1028.8,616.5 1029.6,615.9 1030.4,614.8 1031.2,619.5 1032.0,619.3 1032.8,627.7 1033.6,627.1 1034.4,627.7 1035.2,625.1 1036.0,630.7 1036.8,624.1 1037.6,625.8 1038.4,627.4 1039.2,628.0 1040.0,631.0 1040.8,632.5 1041.6,637.0 1042.4,636.5 1043.2,638.1 1044.0,637.7 1044.8,637.8 1045.6,637.9 1046.4,637.7 1047.2,640.2 1048.0,642.2 1048.8,645.5 1049.6,641.9 1050.4,643.6 1051.2,647.9 1052.0,646.9 1052.8,651.0 1053.6,651.0 1054.4,651.6 1055.2,651.7 1056.0,655.1 1056.8,654.7 1057.6,655.9 1058.4,656.9 1059.2,659.6 1060.0,660.6 1060.8,658.0 1061.6,661.8 1062.4,663.8 1063.2,665.9 1064.0,666.3 1064.8,666.2 1065.6,664.6 1066.4,666.5 1067.2,671.1 1068.0,669.4 1068.8,674.0 1069.6,675.7 1070.4,672.6 1071.2,676.8 1072.0,676.5 1072.8,680.9 1073.6,678.9 1074.4,676.5 1075.2,678.4 1076.0,676.0 1076.8,677.9 1077.6,679.8 1078.4,680.9 1079.2,682.6 1080.0,681.7 1080.8,681.3 1081.6,685.6 1082.4,685.9 1083.2,687.5 1084.0,694.2 1084.8,693.3 1085.6,691.5 1086.4,689.9 1087.2,691.0 1088.0,695.0 1088.8,697.0 1089.6,695.0 1090.4,696.2 1091.2,696.8 1092.0,698.7 1092.8,693.8 1093.6,698.4 1094.4,699.8 1095.2,701.8 1096.0,701.8 1096.8,700.0 1097.6,701.9 1098.4,700.9 1099.2,705.0 1100.0,705.8 1100.8,706.8 1101.6,704.3 1102.4,704.3 1103.2,709.6 1104.0,707.3 1104.8,710.5 1105.6,708.6 1106.4,706.6 1107.2,712.4 1108.0,714.8 1108.8,713.3 1109.6,712.2 1110.4,718.9 1111.2,719.0 1112.0,721.4 1112.8,717.2 1113.6,724.4 1114.4,719.5 1115.2,724.1 1116.0,728.6 1116.8,724.8 1117.6,726.1 1118.4,730.2 1119.2,735.5 1120.0,736.6 1120.8,733.6 1121.6,737.9 1122.4,738.5 1123.2,739.3 1124.0,740.8 1124.8,740.0 1125.6,743.9 1126.4,745.4 1127.2,749.5 1128.0,747.3 1128.8,742.2 1129.6,745.9 1130.4,750.3 1131.2,751.3 1132.0,749.2 1132.8,754.0 1133.6,755.1 1134.4,757.1 1135.2,758.4 1136.0,762.0 1136.8,764.7 1137.6,764.4 1138.4,762.0 1139.2,763.4 1140.0,764.6 1140.8,766.4 1141.6,766.4 1142.4,767.3 1143.2,767.2 1144.0,771.8 1144.8,772.9 1145.6,774.4 1146.4,773.7 1147.2,775.9 1148.0,774.9 1148.8,776.4 1149.6,778.9 1150.4,782.3 1151.2,782.1 1152.0,781.4 1152.8,785.0 1153.6,787.0 1154.4,787.8 1155.2,787.9 1156.0,790.8 1156.8,791.5 1157.6,793.3 1158.4,795.4 1159.2,798.2 1160.0,801.3 1160.8,801.8 1161.6,801.0 1162.4,800.0 1163.2,801.0 1164.0,801.8 1164.8,805.3 1165.6,799.0 1166.4,805.8 1167.2,802.8 1168.0,807.8 1168.8,811.7 1169.6,808.8 1170.4,807.3 1171.2,815.1 1172.0,816.7 1172.8,816.0 1173.6,818.8 1174.4,816.4 1175.2,821.4 1176.0,823.8 1176.8,823.2 1177.6,824.0 1178.4,827.1 1179.2,827.4 1180.0,824.5 1180.8,829.1 1181.6,828.8 1182.4,828.6 1183.2,831.6 1184.0,831.8 1184.8,832.4 1185.6,830.9 1186.4,834.1 1187.2,831.4 1188.0,834.1 1188.8,832.0 1189.6,832.9 1190.4,837.7 1191.2,837.7 1192.0,839.0 1192.8,841.0 1193.6,841.6 1194.4,840.4 1195.2,843.4 1196.0,844.3 1196.8,844.7 1197.6,846.7 1198.4,847.7 1199.2,848.7 1200.0,849.8 1200.8,851.1 1201.6,854.8 1202.4,849.7 1203.2,852.4 1204.0,848.9 1204.8,855.0 1205.6,852.3 1206.4,854.1 1207.2,857.1 1208.0,857.6 1208.8,854.1 1209.6,858.9 1210.4,858.2 1211.2,860.5 1212.0,860.3 1212.8,862.1 1213.6,862.0 1214.4,862.0 1215.2,865.0 1216.0,860.6 1216.8,863.3 1217.6,863.0 1218.4,865.2 1219.2,865.5 1220.0,866.8 1220.8,866.6 1221.6,866.8 1222.4,864.8 1223.2,868.0 1224.0,868.9 1224.8,867.5 1225.6,867.8 1226.4,868.6 1227.2,873.7 1228.0,871.7 1228.8,872.9 1229.6,872.3 1230.4,872.6 1231.2,872.4 1232.0,877.4 1232.8,872.0 1233.6,876.2 1234.4,876.0 1235.2,876.1 1236.0,874.5 1236.8,876.3 1237.6,881.5 1238.4,879.7 1239.2,883.7 1240.0,884.3 1240.8,885.0 1241.6,886.1 1242.4,882.9 1243.2,884.7 1244.0,887.5 1244.8,884.6 1245.6,890.7 1246.4,887.3 1247.2,888.9 1248.0,887.7 1248.8,890.9 1249.6,889.1 1250.4,890.1 1251.2,888.5 1252.0,892.7 1252.8,887.4 1253.6,891.3 1254.4,891.0 1255.2,890.4 1256.0,886.7 1256.8,889.4 1257.6,888.1 1258.4,886.2 1259.2,887.2 1260.0,887.3 1260.8,889.7 1261.6,888.1 1262.4,891.7 1263.2,892.4 1264.0,890.0 1264.8,888.3 1265.6,893.3 1266.4,893.5 1267.2,896.3 1268.0,894.6 1268.8,894.0 1269.6,892.9 1270.4,895.9 1271.2,895.6 1272.0,895.2 1272.8,897.6 1273.6,900.4 1274.4,899.3 1275.2,897.9 1276.0,900.8 1276.8,898.6 1277.6,898.0 1278.4,902.2 1279.2,900.8 1280.0,904.4 1280.8,903.4 1281.6,901.8 1282.4,904.0 1283.2,906.2 1284.0,903.9 1284.8,902.8 1285.6,904.4 1286.4,905.3 1287.2,905.6 1288.0,906.2 1288.8,912.1 1289.6,916.8 1290.4,917.8 1291.2,923.6 1292.0,927.6 1292.8,933.2 1293.6,934.0 1294.4,938.0 1295.2,944.4 1296.0,949.2 1296.8,955.1 1297.6,961.7 1298.4,959.3 1299.2,961.3 1300.0,959.9 1300.8,962.2 1301.6,962.7 1302.4,965.0 1303.2,968.5 1304.0,970.7 1304.8,974.7 1305.6,977.7 1306.4,975.5 1307.2,982.0 1308.0,978.2 1308.8,984.7 1309.6,986.5 1310.4,984.8 1311.2,981.8 1312.0,974.3 1312.8,969.7 1313.6,950.8 1314.4,943.4 1315.2,945.6 1316.0,953.3 1316.8,964.9"/>
</g>
<g stroke="#000" stroke-width="2" fill="none" shape-rendering="crispEdges">
<line x1="769" y1="77.5" x2="769" y2="318" stroke-dasharray="2 8.35"/>
<line x1="884" y1="261.8" x2="884" y2="562" stroke-dasharray="2 8.27"/>
</g>
<g fill="#000">
<rect x="187.75" y="36.7" width="1274" height="3.8"/>
<rect x="187.75" y="1107.3" width="1274" height="3.9"/>
<rect x="187.75" y="36.7" width="4" height="1074.5"/>
<rect x="1457.7" y="36.7" width="4" height="1074.5"/>
<rect x="187.60" y="1109" width="4" height="22.7"/>
<rect x="259.50" y="1109" width="4" height="12.3"/>
<rect x="329.30" y="1109" width="4" height="22.7"/>
<rect x="399.00" y="1109" width="4" height="12.3"/>
<rect x="470.70" y="1109" width="4" height="22.7"/>
<rect x="540.30" y="1109" width="4" height="12.3"/>
<rect x="612.20" y="1109" width="4" height="22.7"/>
<rect x="682.20" y="1109" width="4" height="12.3"/>
<rect x="751.80" y="1109" width="4" height="22.7"/>
<rect x="823.40" y="1109" width="4" height="12.3"/>
<rect x="893.30" y="1109" width="4" height="22.7"/>
<rect x="963.10" y="1109" width="4" height="12.3"/>
<rect x="1034.90" y="1109" width="4" height="22.7"/>
<rect x="1104.80" y="1109" width="4" height="12.3"/>
<rect x="1174.60" y="1109" width="4" height="22.7"/>
<rect x="1246.20" y="1109" width="4" height="12.3"/>
<rect x="1316.00" y="1109" width="4" height="22.7"/>
<rect x="1385.80" y="1109" width="4" height="12.3"/>
<rect x="1457.70" y="1109" width="4" height="22.7"/>
</g>
<g font-size="58" text-anchor="middle" fill="#000">
<text x="188.45" y="1191">0</text>
<text x="330.20" y="1191">5</text>
<text x="471.85" y="1191">10</text>
<text x="613.35" y="1191">15</text>
<text x="752.80" y="1191">20</text>
<text x="894.00" y="1191">25</text>
<text x="1035.65" y="1191">30</text>
<text x="1175.65" y="1191">35</text>
<text x="1317.50" y="1191">40</text>
<text x="1459.00" y="1191">45</text>
</g>
<text x="753.5" y="1298.2" font-size="108">2</text>
<text transform="translate(813.5,1296.9) scale(1.024,0.887)" font-size="106" style="font-family:'Liberation Serif',serif">θ</text>
<text transform="translate(118.4,581.5) rotate(-90)" font-size="107" text-anchor="middle">Intensity</text>
<text x="695.3" y="92" font-size="52.5">2<tspan dx="2.4">0</tspan><tspan font-size="31" dx="-0.6" dy="-29">o</tspan></text>
<text x="838.8" y="249.5" font-size="52.5">24.5<tspan font-size="31" dy="-28.5">o</tspan></text>
</g>
<rect x="1032.5" y="75.5" width="400" height="190.5" fill="#000"/>
<rect x="1017.5" y="60.5" width="399.5" height="190" fill="#fff" stroke="#000" stroke-width="2"/>
<g stroke-width="2" shape-rendering="crispEdges">
<line x1="1024.5" y1="92.5" x2="1141.5" y2="92.5" stroke="#222"/>
<line x1="1024.5" y1="160.5" x2="1141.5" y2="160.5" stroke="#ff0000"/>
<line x1="1024.5" y1="221.5" x2="1141.5" y2="221.5" stroke="#00ff00"/>
</g>
<g font-size="53" fill="#000" stroke="#fff" stroke-width="1.1">
<text x="1153" y="109">17.5 m/min</text>
<text x="1153" y="177">39.2 m/min</text>
<text x="1153" y="238">52.2 m/min</text>
</g>
</svg></body></html>
